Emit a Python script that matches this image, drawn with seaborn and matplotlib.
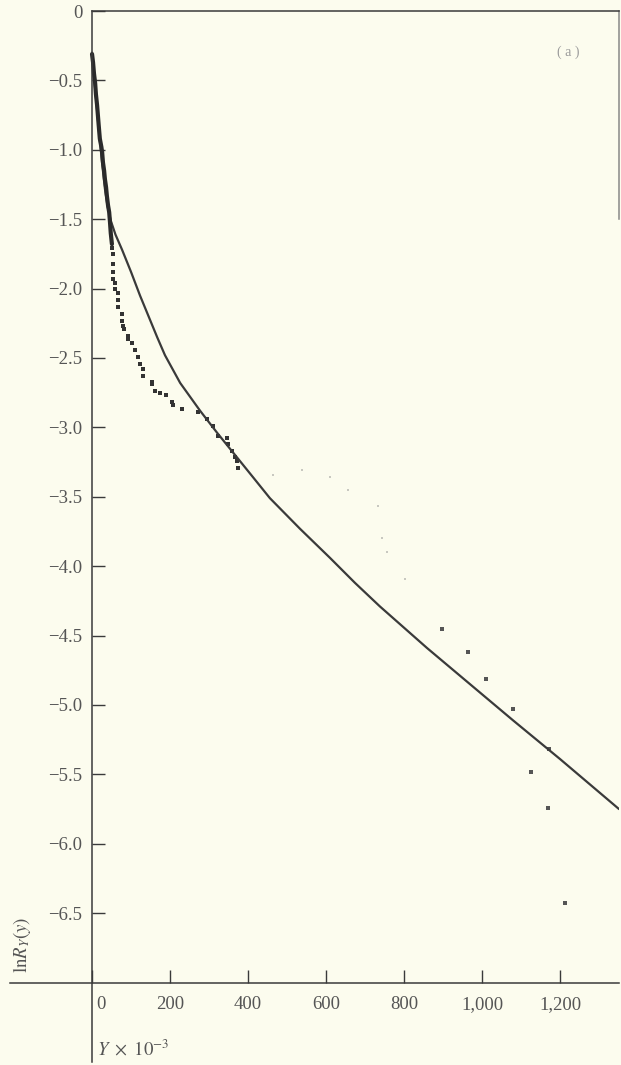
import matplotlib
matplotlib.use("Agg")
import matplotlib.pyplot as plt
import seaborn as sns
import pandas as pd
from matplotlib.transforms import ScaledTranslation

# fitted curve
curve_x = [0, 5, 10, 15, 20, 26, 33, 40, 48, 60, 77, 100, 123, 167, 187, 226,
           277, 321, 367, 413, 456, 533, 610, 674, 738, 859, 969, 1079, 1200, 1351]
curve_y = [-0.30, -0.47, -0.62, -0.78, -0.93, -1.10, -1.28, -1.41, -1.51, -1.61,
           -1.72, -1.88, -2.05, -2.35, -2.48, -2.68, -2.88, -3.04, -3.20, -3.36,
           -3.51, -3.73, -3.94, -4.12, -4.29, -4.59, -4.85, -5.11, -5.39, -5.75]

# dense empirical points near the origin (merge into a thick jagged trace)
dense_x = [0, 2.6, 5, 8, 10, 13, 15, 17, 20, 24, 26, 28, 31, 33, 36, 38, 41, 44,
           46, 48, 51]
dense_y = [-0.31, -0.37, -0.45, -0.52, -0.60, -0.68, -0.75, -0.82, -0.92, -0.98,
           -1.02, -1.09, -1.15, -1.21, -1.27, -1.33, -1.40, -1.45, -1.52, -1.60,
           -1.68]

# individual empirical points (well printed)
pts_x = [51, 54, 54, 54, 54, 59, 59, 67, 67, 67, 77, 77, 79, 82, 92, 92, 103, 110,
         118, 124, 131, 131, 154, 154, 162, 174, 190, 205, 208, 231, 272, 295, 310,
         323, 346, 349, 359, 367, 372, 374]
pts_y = [-1.71, -1.75, -1.82, -1.88, -1.93, -1.96, -2.00, -2.03, -2.08, -2.13,
         -2.18, -2.23, -2.27, -2.29, -2.34, -2.36, -2.39, -2.44, -2.49, -2.54,
         -2.58, -2.63, -2.67, -2.69, -2.74, -2.75, -2.77, -2.82, -2.84, -2.87,
         -2.89, -2.94, -2.99, -3.06, -3.08, -3.12, -3.17, -3.21, -3.24, -3.29]

# sparse tail points
tail_x = [897, 964, 1010, 1079, 1172, 1126, 1170, 1213]
tail_y = [-4.45, -4.62, -4.81, -5.03, -5.32, -5.48, -5.74, -6.43]

# faint (barely printed) points
faint_x = [464, 538, 610, 656, 733, 744, 756, 803]
faint_y = [-3.34, -3.31, -3.36, -3.45, -3.57, -3.80, -3.90, -4.09]

y_ticks = [0, -0.5, -1.0, -1.5, -2.0, -2.5, -3.0, -3.5, -4.0, -4.5, -5.0, -5.5,
           -6.0, -6.5]
y_tick_labels = ["0", "\u22120.5", "\u22121.0", "\u22121.5", "\u22122.0", "\u22122.5",
                 "\u22123.0", "\u22123.5", "\u22124.0", "\u22124.5", "\u22125.0",
                 "\u22125.5", "\u22126.0", "\u22126.5"]
x_ticks = [0, 200, 400, 600, 800, 1000, 1200]
x_tick_labels = ["0", "200", "400", "600", "800", "1,000", "1,200"]

bg = "#fcfcee"
ink = "#3a3a3a"
txt = "#555555"

sns.set_theme(style="white")
plt.rcParams["font.family"] = ["Liberation Serif", "DejaVu Serif"]
plt.rcParams["mathtext.fontset"] = "stix"

fig = plt.figure(figsize=(6.21, 10.65), dpi=100, facecolor=bg)
ax = fig.add_axes([10 / 621, 0, 609 / 621, 1054 / 1065])
ax.set_facecolor(bg)

curve = pd.DataFrame({"x": curve_x, "y": curve_y})
dense = pd.DataFrame({"x": dense_x, "y": dense_y})
pts = pd.DataFrame({"x": pts_x, "y": pts_y})
tail = pd.DataFrame({"x": tail_x, "y": tail_y})
faint = pd.DataFrame({"x": faint_x, "y": faint_y})

sns.lineplot(data=curve, x="x", y="y", sort=False, estimator=None, ax=ax,
             color=ink, lw=1.6)
sns.lineplot(data=dense, x="x", y="y", sort=False, estimator=None, ax=ax,
             color="#2a2a2a", lw=3.0)
sns.scatterplot(data=pts, x="x", y="y", ax=ax, marker="s", s=6, color="#333333",
                linewidth=0)
sns.scatterplot(data=tail, x="x", y="y", ax=ax, marker="s", s=6, color="#555555",
                linewidth=0)
sns.scatterplot(data=faint, x="x", y="y", ax=ax, marker="s", s=4, color="#c8c8c0",
                linewidth=0)

ax.set_xlim(-210.3, 1351)
ax.set_ylim(-7.594, 0)

for s in ax.spines.values():
    s.set_color(ink)
    s.set_linewidth(1.1)
ax.spines["left"].set_position(("data", 0))
ax.spines["left"].set_bounds(-7.57, 0)
ax.spines["bottom"].set_position(("data", -7))
ax.spines["top"].set_bounds(0, 1351)
ax.spines["right"].set_bounds(-1.5, 0)
ax.spines["right"].set_color("#888888")

ax.set_yticks(y_ticks)
ax.set_yticklabels(y_tick_labels)
ax.set_xticks(x_ticks)
ax.set_xticklabels(x_tick_labels)
ax.tick_params(axis="both", direction="in", length=9.5, width=1.0, color=ink,
               labelsize=13.5, labelcolor=txt, left=True, bottom=True,
               right=False, top=False)
ax.tick_params(axis="y", pad=7)
ax.tick_params(axis="x", pad=10)
ax.set_xlabel("")
ax.set_ylabel("")

lab0 = ax.get_xticklabels()[0]
lab0.set_transform(lab0.get_transform() + ScaledTranslation(9 / 100, 0, fig.dpi_scale_trans))

ax.text(1220, -0.30, "( a )", fontsize=10, color="#9a9a9a", ha="center", va="center")
ax.text(-179.5, -6.73, r"$\mathrm{ln}R_Y(y)$", rotation=90, fontsize=13.5,
        color=txt, ha="center", va="center")
ax.text(13, -7.485, r"$Y\ \times\ 10^{-3}$", fontsize=13.5, color=txt,
        ha="left", va="center")

fig.savefig("out.png", dpi=100, facecolor=bg)
